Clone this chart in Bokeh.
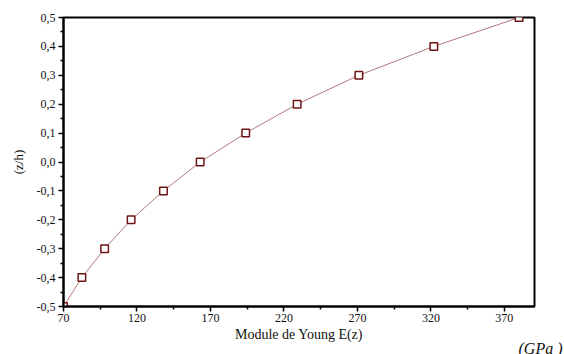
from bokeh.plotting import figure
from bokeh.models import FixedTicker, CustomJSTickFormatter, Title, Range1d
from bokeh.embed import file_html
from bokeh.resources import INLINE

z_over_h = [-0.5, -0.4, -0.3, -0.2, -0.1, 0.0, 0.1, 0.2, 0.3, 0.4, 0.5]
young_E = [70, 82.5, 98, 116, 138, 163, 194, 229, 271, 322, 380]
x_ticks = [70, 120, 170, 220, 270, 320, 370]
x_minor = [95, 145, 195, 245, 295, 345]
y_ticks = [-0.5, -0.4, -0.3, -0.2, -0.1, 0.0, 0.1, 0.2, 0.3, 0.4, 0.5]
y_minor = [-0.45, -0.35, -0.25, -0.15, -0.05, 0.05, 0.15, 0.25, 0.35, 0.45]

p = figure(width=564, height=354, output_backend="svg", toolbar_location=None,
           x_range=Range1d(70, 390.5), y_range=Range1d(-0.5, 0.5),
           min_border_left=63, min_border_right=30, min_border_top=17, min_border_bottom=0)
p.grid.visible = False
p.background_fill_color = "white"
p.border_fill_color = "white"
p.outline_line_color = "black"
p.outline_line_width = 2

p.line(young_E, z_over_h, line_color="#b07a7a", line_width=1)
p.scatter(young_E, z_over_h, marker="square", size=7.5, fill_color="white",
          line_color="#6e1414", line_width=1.5)

p.xaxis.ticker = FixedTicker(ticks=x_ticks, minor_ticks=x_minor)
p.yaxis.ticker = FixedTicker(ticks=y_ticks, minor_ticks=y_minor)
p.xaxis.formatter = CustomJSTickFormatter(code="return String(Math.round(tick));")
p.yaxis.formatter = CustomJSTickFormatter(code="return (Math.abs(tick) < 1e-9 ? 0 : tick).toFixed(1).replace('.', ',');")

for ax in (p.xaxis[0], p.yaxis[0]):
    ax.axis_line_width = 2
    ax.axis_line_color = "black"
    ax.major_tick_in = 0
    ax.major_tick_out = 5
    ax.minor_tick_in = 0
    ax.minor_tick_out = 3
    ax.major_tick_line_width = 1.5
    ax.minor_tick_line_width = 1.5
    ax.major_label_text_font = "Liberation Serif"
    ax.major_label_text_font_size = "12px"
    ax.major_label_text_color = "#111111"
    ax.axis_label_text_font = "Liberation Serif"
    ax.axis_label_text_font_size = "14px"
    ax.axis_label_text_font_style = "normal"
    ax.axis_label_text_color = "#111111"

p.xaxis.axis_label = "Module de Young E(z)"
p.yaxis.axis_label = "(z/h)"
p.yaxis.axis_label_text_font_size = "13px"
p.xaxis.major_label_standoff = 2
p.xaxis.axis_label_standoff = 2
p.yaxis.major_label_standoff = 3
p.yaxis.axis_label_standoff = 8

gpa = Title(text="(GPa )", align="right", vertical_align="top", text_font="Liberation Serif",
            text_font_style="italic", text_font_size="16px", text_color="#111111",
            standoff=-9, offset=-28)
p.add_layout(gpa, "below")

open("out.html", "w").write(file_html(p, INLINE))
